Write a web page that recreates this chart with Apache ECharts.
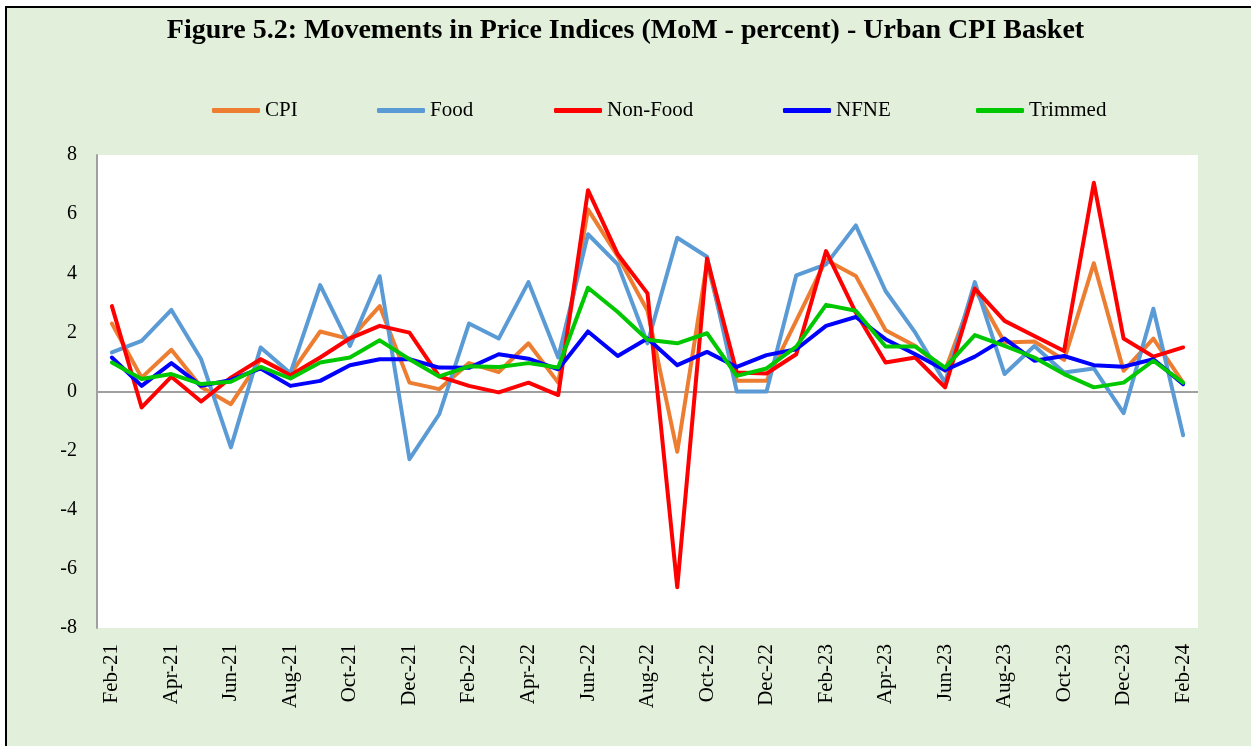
<!DOCTYPE html>
<html>
<head>
<meta charset="utf-8">
<title>Figure 5.2</title>
<script src="https://cdn.jsdelivr.net/npm/echarts@6/dist/echarts.min.js"></script>
<style>
  html, body { margin: 0; padding: 0; background: #fff; overflow: hidden; }
  #frame {
    position: absolute; left: 5px; top: 6px; width: 1300px; height: 800px;
    border: 2px solid #000; background: #e2efda;
  }
  #chart { position: absolute; left: 0; top: 0; width: 1251px; height: 746px; }
</style>
</head>
<body>
<div id="frame"></div>
<div id="chart"></div>
<script>
// months shown on the x axis (every other one is labelled)
const months = [
  'Feb-21', 'Mar-21', 'Apr-21', 'May-21', 'Jun-21', 'Jul-21', 'Aug-21', 'Sep-21', 'Oct-21', 'Nov-21', 'Dec-21', 'Jan-22',
  'Feb-22', 'Mar-22', 'Apr-22', 'May-22', 'Jun-22', 'Jul-22', 'Aug-22', 'Sep-22', 'Oct-22', 'Nov-22', 'Dec-22', 'Jan-23',
  'Feb-23', 'Mar-23', 'Apr-23', 'May-23', 'Jun-23', 'Jul-23', 'Aug-23', 'Sep-23', 'Oct-23', 'Nov-23', 'Dec-23', 'Jan-24',
  'Feb-24'
]

// MoM percent changes
const cpi = [
  2.30, 0.47, 1.41, 0.15, -0.43, 1.09, 0.59, 2.03, 1.77, 2.89, 0.30, 0.08,
  0.96, 0.66, 1.63, 0.30, 6.16, 4.58, 2.73, -2.04, 4.36, 0.36, 0.36, 2.40,
  4.45, 3.91, 2.07, 1.54, 0.70, 3.46, 1.66, 1.69, 1.07, 4.34, 0.70, 1.79,
  0.30
]
const food = [
  1.32, 1.71, 2.76, 1.09, -1.89, 1.49, 0.62, 3.60, 1.54, 3.90, -2.29, -0.77,
  2.30, 1.79, 3.70, 1.15, 5.32, 4.30, 1.63, 5.20, 4.56, 0.00, 0.00, 3.93,
  4.30, 5.62, 3.40, 1.99, 0.30, 3.70, 0.59, 1.54, 0.64, 0.78, -0.73, 2.80,
  -1.48
]
const nonFood = [
  2.89, -0.54, 0.50, -0.34, 0.47, 1.09, 0.55, 1.15, 1.80, 2.22, 1.99, 0.51,
  0.19, -0.03, 0.30, -0.12, 6.81, 4.64, 3.32, -6.62, 4.50, 0.64, 0.61, 1.26,
  4.75, 2.67, 0.98, 1.15, 0.14, 3.48, 2.39, 1.88, 1.37, 7.06, 1.79, 1.18,
  1.49
]
const nfne = [
  1.15, 0.19, 0.96, 0.19, 0.39, 0.78, 0.19, 0.36, 0.89, 1.09, 1.09, 0.81,
  0.80, 1.26, 1.11, 0.75, 2.03, 1.20, 1.79, 0.89, 1.34, 0.83, 1.23, 1.43,
  2.22, 2.52, 1.77, 1.26, 0.72, 1.18, 1.79, 1.04, 1.20, 0.89, 0.84, 1.09,
  0.25
]
const trimmed = [
  0.98, 0.42, 0.59, 0.25, 0.33, 0.83, 0.44, 0.98, 1.15, 1.73, 1.09, 0.51,
  0.85, 0.83, 0.96, 0.81, 3.51, 2.69, 1.75, 1.63, 1.97, 0.53, 0.78, 1.52,
  2.93, 2.73, 1.52, 1.52, 0.81, 1.91, 1.54, 1.15, 0.59, 0.14, 0.30, 1.04,
  0.30
]
const yTicks = { min: -8, max: 8, step: 2 }

const FONT = '"Liberation Serif", "DejaVu Serif", serif'

const seriesDefs = [
  { name: 'CPI', data: cpi, color: '#ed7d31', legendX: 207 },
  { name: 'Food', data: food, color: '#5b9bd5', legendX: 372 },
  { name: 'Non-Food', data: nonFood, color: '#ff0000', legendX: 549 },
  { name: 'NFNE', data: nfne, color: '#0000ff', legendX: 778 },
  { name: 'Trimmed', data: trimmed, color: '#00c800', legendX: 971 }
]

const chart = echarts.init(document.getElementById('chart'), null, { renderer: 'canvas' })

chart.setOption({
  animation: false,
  backgroundColor: 'transparent',
  textStyle: { fontFamily: FONT, color: '#000' },
  title: {
    text: 'Figure 5.2: Movements in Price Indices (MoM - percent) - Urban CPI Basket',
    left: 'center',
    top: 12,
    textStyle: { fontFamily: FONT, fontSize: 28, fontWeight: 'bold', color: '#000' }
  },
  // one legend per entry so the spacing follows the original
  legend: seriesDefs.map(s => ({
    data: [s.name],
    left: s.legendX,
    top: 95,
    itemWidth: 48,
    itemHeight: 5,
    itemGap: 0,
    icon: 'roundRect',
    textStyle: { fontFamily: FONT, fontSize: 21, fontWeight: 'normal', color: '#000' }
  })),
  grid: {
    left: 97,
    right: 53,
    top: 155,
    bottom: 118,
    show: true,
    backgroundColor: '#fff',
    borderWidth: 0
  },
  xAxis: {
    type: 'category',
    data: months,
    boundaryGap: true,
    axisLine: { show: false, onZero: false },
    axisTick: { show: false },
    axisLabel: {
      interval: 1,
      rotate: 90,
      margin: 16,
      fontFamily: FONT,
      fontSize: 21,
      fontWeight: 'normal',
      color: '#000'
    },
    splitLine: { show: false }
  },
  yAxis: {
    type: 'value',
    min: yTicks.min,
    max: yTicks.max,
    interval: yTicks.step,
    axisLine: { show: true, lineStyle: { color: '#a0a0a0', width: 2 } },
    axisTick: { show: false },
    axisLabel: { margin: 20, fontFamily: FONT, fontSize: 20, fontWeight: 'normal', color: '#000' },
    splitLine: { show: false }
  },
  series: seriesDefs.map((s, i) => ({
    name: s.name,
    type: 'line',
    data: s.data,
    showSymbol: false,
    symbol: 'none',
    color: s.color,
    lineStyle: { color: s.color, width: 4, cap: 'round', join: 'round' },
    z: 3 + i,
    markLine: i === 0 ? {
      silent: true,
      symbol: 'none',
      label: { show: false },
      lineStyle: { color: '#a0a0a0', width: 2, type: 'solid' },
      z: 1,
      data: [{ yAxis: 0 }]
    } : undefined
  }))
})
</script>
</body>
</html>
